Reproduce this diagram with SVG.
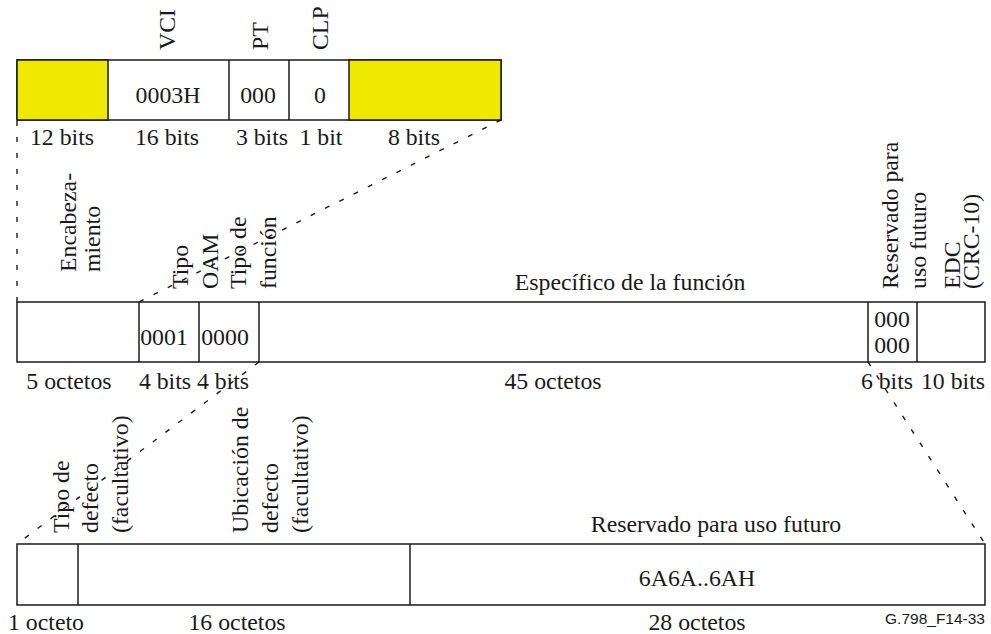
<svg xmlns="http://www.w3.org/2000/svg" width="991" height="634" viewBox="0 0 991 634" font-family="'Liberation Serif', 'Times New Roman', Times, serif">
<style>
text{font-family:'Liberation Serif','Times New Roman',Times,serif;font-size:23.8px;fill:#1a1a1a}
.c{text-anchor:middle}
.box{fill:#fff;stroke:#1a1a1a;stroke-width:1.5}
.y{fill:#efe800;stroke:#1a1a1a;stroke-width:1.5}
.ln{stroke:#1a1a1a;stroke-width:1.5;fill:none}
.dash{stroke:#1a1a1a;stroke-width:1.4;fill:none;stroke-dasharray:5 11}
text.ref{font-family:'Liberation Sans',Arial,sans-serif;font-size:15.5px;text-anchor:end}
</style>
<rect width="991" height="634" fill="#fff"/>
<g id="connectors">
<line class="dash" x1="17" y1="121" x2="17" y2="302"/>
<line class="dash" x1="501" y1="120" x2="139" y2="302"/>
<line class="dash" x1="259" y1="362" x2="17" y2="544"/>
<line class="dash" x1="868" y1="362" x2="985" y2="544"/>
</g>
<g id="header-cell">
<rect class="box" x="17" y="60" width="484" height="60"/>
<rect class="y" x="17" y="60" width="91" height="60"/>
<rect class="y" x="349" y="60" width="152" height="60"/>
<line class="ln" x1="229" y1="60" x2="229" y2="120"/>
<line class="ln" x1="289" y1="60" x2="289" y2="120"/>
<text transform="translate(175,50) rotate(-90)">VCI</text>
<text transform="translate(268,50) rotate(-90)">PT</text>
<text transform="translate(328,50) rotate(-90)">CLP</text>
<text class="c" x="168" y="103">0003H</text>
<text class="c" x="258" y="103">000</text>
<text class="c" x="320" y="103">0</text>
<text class="c" x="62" y="145">12 bits</text>
<text class="c" x="167" y="145">16 bits</text>
<text class="c" x="262" y="145">3 bits</text>
<text class="c" x="321" y="145">1 bit</text>
<text class="c" x="414" y="145">8 bits</text>
</g>
<g id="oam-cell">
<rect class="box" x="17" y="302" width="968" height="60"/>
<line class="ln" x1="139" y1="302" x2="139" y2="362"/>
<line class="ln" x1="199" y1="302" x2="199" y2="362"/>
<line class="ln" x1="259" y1="302" x2="259" y2="362"/>
<line class="ln" x1="868" y1="302" x2="868" y2="362"/>
<line class="ln" x1="917" y1="302" x2="917" y2="362"/>
<text transform="translate(76,272) rotate(-90)">Encabeza-</text>
<text transform="translate(100,272) rotate(-90)">miento</text>
<text transform="translate(188,289) rotate(-90)">Tipo</text>
<text transform="translate(218,289) rotate(-90)">OAM</text>
<text transform="translate(246,289) rotate(-90)">Tipo de</text>
<text transform="translate(276,289) rotate(-90)">función</text>
<text transform="translate(898,289) rotate(-90)">Reservado para</text>
<text transform="translate(926,289) rotate(-90)">uso futuro</text>
<text transform="translate(960,289) rotate(-90)">EDC</text>
<text transform="translate(979,289) rotate(-90)">(CRC-10)</text>
<text class="c" x="630" y="290">Específico de la función</text>
<text class="c" x="164" y="345">0001</text>
<text class="c" x="225" y="345">0000</text>
<text class="c" x="892" y="327">000</text>
<text class="c" x="892" y="353">000</text>
<text class="c" x="69" y="389">5 octetos</text>
<text class="c" x="165" y="389">4 bits</text>
<text class="c" x="223" y="389">4 bits</text>
<text class="c" x="553" y="389">45 octetos</text>
<text class="c" x="887" y="389">6 bits</text>
<text class="c" x="953" y="389">10 bits</text>
</g>
<g id="defect-fields">
<rect class="box" x="17" y="544" width="968" height="61"/>
<line class="ln" x1="78" y1="544" x2="78" y2="605"/>
<line class="ln" x1="410" y1="544" x2="410" y2="605"/>
<text transform="translate(69,533) rotate(-90)">Tipo de</text>
<text transform="translate(98,533) rotate(-90)">defecto</text>
<text transform="translate(128,533) rotate(-90)">(facultativo)</text>
<text transform="translate(248,533) rotate(-90)">Ubicación de</text>
<text transform="translate(278,533) rotate(-90)">defecto</text>
<text transform="translate(308,533) rotate(-90)">(facultativo)</text>
<text class="c" x="716" y="532">Reservado para uso futuro</text>
<text class="c" x="697" y="586">6A6A..6AH</text>
<text class="c" x="46" y="630">1 octeto</text>
<text class="c" x="237" y="630">16 octetos</text>
<text class="c" x="697" y="630">28 octetos</text>
<text class="ref" x="985" y="624">G.798_F14-33</text>
</g>
</svg>
